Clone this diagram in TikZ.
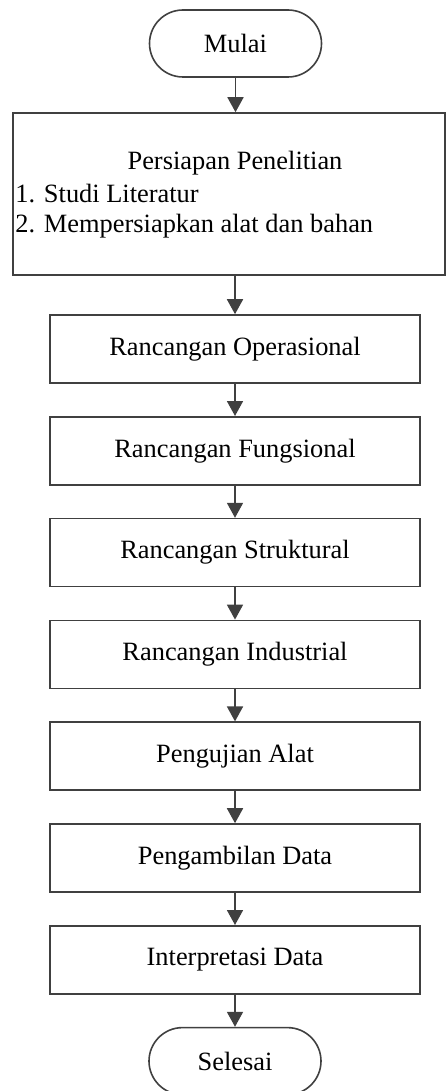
\documentclass[tikz,border=0pt]{standalone}
\usepackage{fontspec}
\setmainfont{Liberation Serif}
\usetikzlibrary{positioning,arrows.meta}

\definecolor{linegray}{HTML}{404040}

\tikzset{
  terminal/.style={draw=linegray, line width=0.8pt, rounded corners=16.75pt,
    minimum width=86pt, minimum height=33.5pt, inner sep=0pt},
  process/.style={draw=linegray, line width=0.8pt, minimum width=185pt,
    minimum height=34pt, inner sep=0pt},
  flow/.style={draw=linegray, line width=0.9pt,
    -{Triangle[width=8pt, length=7.5pt]}}
}

\begin{document}
\begin{tikzpicture}[x=0.5pt, y=-0.5pt, node distance=16.1pt,
    font=\fontsize{13.2}{15}\selectfont]
  \useasboundingbox (0, 0) rectangle (447, 1091);

  % Start
  \node [terminal] (mulai) at (235.5, 43.5) {Mulai};

  % Preparation
  \node [process, minimum width=216pt, minimum height=81pt] (prep) at (229, 194) {};
  \node [anchor=base] (prep title) at (235, 170) {Persiapan Penelitian};
  \node [anchor=base west, inner sep=0pt] (prep one) at (15, 203) {1. Studi Literatur};
  \node [anchor=base west, inner sep=0pt] (prep two) at (15, 233)
    {2. Mempersiapkan alat dan bahan};

  % Design and testing steps
  \node [process] (ops) at (235, 349) {Rancangan Operasional};
  \node [process, below=of ops] (fungsi) {Rancangan Fungsional};
  \node [process, below=of fungsi] (struktur) {Rancangan Struktural};
  \node [process, below=of struktur] (industri) {Rancangan Industrial};
  \node [process, below=of industri] (uji) {Pengujian Alat};
  \node [process, below=of uji] (ambil) {Pengambilan Data};
  \node [process, below=of ambil] (interp) {Interpretasi Data};

  % End
  \node [terminal, below=of interp] (selesai) {Selesai};

  % Arrows
  \draw [flow] (mulai.south) -- (mulai.south |- prep.north);
  \draw [flow] (ops.north |- prep.south) -- (ops.north);
  \foreach \from/\to in {ops/fungsi, fungsi/struktur, struktur/industri,
      industri/uji, uji/ambil, ambil/interp, interp/selesai}
    \draw [flow] (\from) -- (\to);
\end{tikzpicture}
\end{document}
